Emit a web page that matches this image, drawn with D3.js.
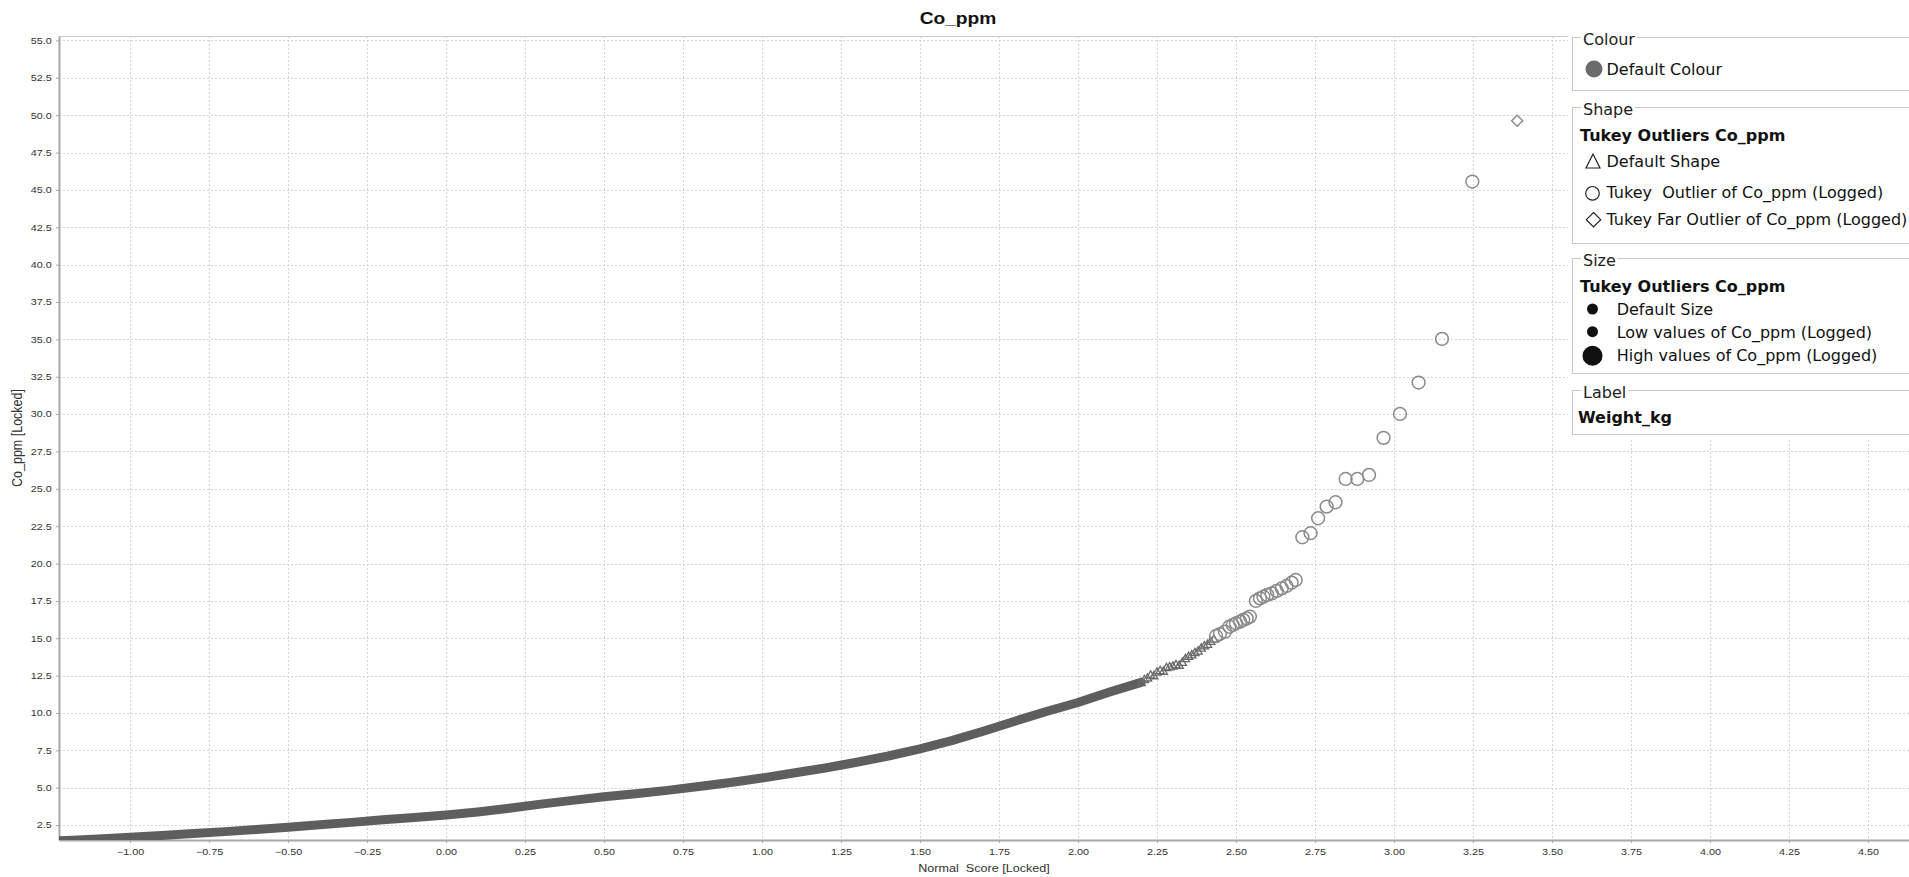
<!DOCTYPE html>
<html>
<head>
<meta charset="utf-8">
<script src="https://cdn.jsdelivr.net/npm/d3@7"></script>
<style>
  body { margin: 0; background: #fff; }
  text { font-family: "Liberation Sans", Arial, sans-serif; }
  .legend text { font-family: "DejaVu Sans", sans-serif; }
</style>
</head>
<body>
<div id="chart"></div>
<script>
// values: normal score (x) and Co_ppm (y)
// dense part of the curve, so many points overlap that they form a solid band
var bandScore = [-1.25, -1.2, -1.1, -1.0, -0.9, -0.8, -0.7, -0.6, -0.5, -0.4, -0.3, -0.2, -0.1,
  0.0, 0.1, 0.2, 0.3, 0.4, 0.5, 0.6, 0.7, 0.8, 0.9, 1.0, 1.1, 1.2, 1.3, 1.4, 1.5,
  1.6, 1.7, 1.8, 1.9, 2.0, 2.1, 2.2];
var bandValue = [1.42, 1.47, 1.56, 1.68, 1.80, 1.93, 2.06, 2.20, 2.36, 2.52, 2.68, 2.85, 3.01,
  3.18, 3.38, 3.62, 3.90, 4.15, 4.40, 4.60, 4.82, 5.08, 5.35, 5.65, 5.98, 6.32, 6.70, 7.12, 7.60,
  8.15, 8.78, 9.45, 10.1, 10.7, 11.4, 12.05];

// default shape points at the top of the band, where they start to separate
var defaultScore = [2.20, 2.21, 2.22, 2.23, 2.24, 2.25, 2.26, 2.27, 2.28, 2.29, 2.30, 2.31,
  2.32, 2.33, 2.34, 2.35, 2.36, 2.37, 2.38, 2.39, 2.40, 2.41, 2.42, 2.43];
var defaultValue = [12.0, 12.2, 12.3, 12.5, 12.45, 12.7, 12.8, 12.75, 13.0, 13.05, 13.1, 13.2,
  13.15, 13.35, 13.6, 13.75, 13.85, 14.0, 14.1, 14.3, 14.45, 14.55, 14.75, 14.9];

// Tukey outliers (circles)
var outlierScore = [2.437, 2.449, 2.465, 2.479, 2.49, 2.50, 2.513, 2.523, 2.534, 2.544,
  2.563, 2.576, 2.587, 2.599, 2.613, 2.629, 2.645, 2.660, 2.676, 2.689,
  2.710, 2.736, 2.760, 2.787, 2.815, 2.847, 2.884, 2.921, 2.967, 3.019, 3.078, 3.152, 3.248];
var outlierValue = [15.15, 15.28, 15.44, 15.77, 15.89, 16.0, 16.11, 16.23, 16.33, 16.45,
  17.5, 17.67, 17.78, 17.9, 18.0, 18.17, 18.34, 18.5, 18.72, 18.9,
  21.76, 22.03, 23.03, 23.81, 24.10, 25.66, 25.66, 25.93, 28.41, 30.01, 32.11, 35.03, 45.56];

// Tukey far outlier (diamond)
var farScore = [3.39];
var farValue = [49.63];

var xTicks = [-1.0, -0.75, -0.5, -0.25, 0, 0.25, 0.5, 0.75, 1.0, 1.25, 1.5, 1.75, 2.0, 2.25,
  2.5, 2.75, 3.0, 3.25, 3.5, 3.75, 4.0, 4.25, 4.5];
var yTicks = [2.5, 5, 7.5, 10, 12.5, 15, 17.5, 20, 22.5, 25, 27.5, 30, 32.5, 35, 37.5, 40,
  42.5, 45, 47.5, 50, 52.5, 55];

var shapeLabels = ["Default Shape", "Tukey  Outlier of Co_ppm (Logged)", "Tukey Far Outlier of Co_ppm (Logged)"];
var sizeLabels = ["Default Size", "Low values of Co_ppm (Logged)", "High values of Co_ppm (Logged)"];

var width = 1909, height = 877;
var plot = {left: 59, right: 1909, top: 36, bottom: 840};
var sx = 1.2; // the picture is slightly stretched sideways

var svg = d3.select("#chart")
  .append("svg")
    .attr("width", width)
    .attr("height", height);

var x = d3.scaleLinear().domain([-1.225, 4.63]).range([plot.left, plot.right]);
var y = d3.scaleLinear().domain([1.5, 55.3]).range([plot.bottom, plot.top]);

svg.append("clipPath").attr("id", "clip")
  .append("rect")
    .attr("x", plot.left).attr("y", plot.top)
    .attr("width", plot.right - plot.left).attr("height", plot.bottom - plot.top);

// top border
svg.append("line")
  .attr("x1", plot.left).attr("x2", plot.right)
  .attr("y1", plot.top + 0.5).attr("y2", plot.top + 0.5)
  .attr("stroke", "#cccccc");

// dotted grid
svg.append("g").selectAll("line").data(xTicks).join("line")
  .attr("x1", d => Math.round(x(d)) + 0.5).attr("x2", d => Math.round(x(d)) + 0.5)
  .attr("y1", plot.top).attr("y2", plot.bottom)
  .attr("stroke", "#d4d4d4").attr("stroke-dasharray", "2,2");
svg.append("g").selectAll("line").data(yTicks).join("line")
  .attr("y1", d => Math.round(y(d)) + 0.5).attr("y2", d => Math.round(y(d)) + 0.5)
  .attr("x1", plot.left).attr("x2", plot.right)
  .attr("stroke", "#d4d4d4").attr("stroke-dasharray", "2,2");

// Y axis
var yAxis = svg.append("g")
  .attr("transform", "translate(" + plot.left + ",0)")
  .call(d3.axisLeft(y).tickValues(yTicks).tickFormat(d3.format(".1f")).tickSize(3).tickSizeOuter(0));
yAxis.select(".domain").attr("stroke", "#a8a8a8").attr("stroke-width", 2);
yAxis.selectAll(".tick line").attr("stroke", "#a8a8a8");
yAxis.selectAll(".tick text")
  .attr("x", -7.3 / sx)
  .attr("transform", "scale(" + sx + ",1)")
  .style("font-size", "9px").attr("fill", "#333");

// X axis
var xAxis = svg.append("g")
  .attr("transform", "translate(0," + plot.bottom + ")")
  .call(d3.axisBottom(x).tickValues(xTicks).tickFormat(d3.format(".2f")).tickSize(3).tickSizeOuter(0));
xAxis.select(".domain").attr("stroke", "#a8a8a8").attr("stroke-width", 2);
xAxis.selectAll(".tick line").attr("stroke", "#a8a8a8");
xAxis.selectAll(".tick text")
  .attr("y", 9)
  .attr("transform", "scale(" + sx + ",1)")
  .style("font-size", "9px").attr("fill", "#333");

// axis titles and chart title
svg.append("text")
  .attr("transform", "translate(984,872) scale(" + sx + ",1)")
  .style("text-anchor", "middle").style("font-size", "10.5px").style("white-space", "pre")
  .attr("fill", "#333")
  .text("Normal  Score [Locked]");

svg.append("text")
  .attr("transform", "translate(22,438) scale(" + sx + ",1) rotate(-90)")
  .style("text-anchor", "middle").style("font-size", "12.5px")
  .attr("fill", "#333")
  .text("Co_ppm [Locked]");

svg.append("text")
  .attr("transform", "translate(958,24) scale(" + sx + ",1)")
  .style("text-anchor", "middle").style("font-size", "16px").style("font-weight", "bold")
  .attr("fill", "#111")
  .text("Co_ppm");

// points
var marks = svg.append("g").attr("clip-path", "url(#clip)");

marks.append("path")
  .datum(bandScore)
  .attr("fill", "none")
  .attr("stroke", "#5e5e5e")
  .attr("stroke-width", 9)
  .attr("stroke-linejoin", "round")
  .attr("stroke-linecap", "round")
  .attr("d", d3.line()
    .x(function(d, i) { return x(bandScore[i]); })
    .y(function(d, i) { return y(bandValue[i]); })
  );

var tri = d3.symbol().type(d3.symbolTriangle).size(30);
marks.append("g").selectAll("path").data(defaultScore).join("path")
  .attr("transform", (d, i) => "translate(" + x(d) + "," + y(defaultValue[i]) + ")")
  .attr("d", tri)
  .attr("fill", "none").attr("stroke", "#6a6a6a").attr("stroke-width", 1.3);

marks.append("g").selectAll("circle").data(outlierScore).join("circle")
  .attr("cx", d => x(d))
  .attr("cy", (d, i) => y(outlierValue[i]))
  .attr("r", 6.4)
  .attr("fill", "none").attr("stroke", "#8a8a8a").attr("stroke-width", 1.5);

var diamond = d3.symbol().type(d3.symbolSquare).size(62);
marks.append("g").selectAll("path").data(farScore).join("path")
  .attr("transform", (d, i) => "translate(" + x(d) + "," + y(farValue[i]) + ") rotate(45)")
  .attr("d", diamond)
  .attr("fill", "none").attr("stroke", "#8a8a8a").attr("stroke-width", 1.4);

// legend panel
var legend = svg.append("g").attr("class", "legend");
legend.append("rect")
  .attr("x", 1568).attr("y", 28).attr("width", 345).attr("height", 410)
  .attr("fill", "#fff");

var boxes = [
  {title: "Colour", top: 37, bottom: 90},
  {title: "Shape", top: 107, bottom: 243},
  {title: "Size", top: 258, bottom: 373},
  {title: "Label", top: 390, bottom: 434}
];
boxes.forEach(function(b) {
  legend.append("rect")
    .attr("x", 1572.5).attr("y", b.top + 0.5)
    .attr("width", 360).attr("height", b.bottom - b.top)
    .attr("fill", "none").attr("stroke", "#c8c8c8");
  var bg = legend.append("rect").attr("fill", "#fff");
  var t = legend.append("text")
    .attr("x", 1583).attr("y", b.top + 8)
    .style("font-size", "16px").attr("fill", "#222")
    .text(b.title);
  var w = t.node().getComputedTextLength();
  bg.attr("x", 1581).attr("y", b.top - 4).attr("width", w + 4).attr("height", 8);
});

// Colour
legend.append("circle").attr("cx", 1594).attr("cy", 69).attr("r", 8.5).attr("fill", "#6b6b6b");
legend.append("text").attr("x", 1606.5).attr("y", 74.5)
  .style("font-size", "16px").attr("fill", "#111").text("Default Colour");

// Shape
legend.append("text").attr("x", 1580).attr("y", 140.5)
  .style("font-size", "16px").style("font-weight", "bold").attr("fill", "#111")
  .text("Tukey Outliers Co_ppm");
var shapeY = [166.7, 198.3, 224.5];
legend.append("path")
  .attr("d", "M1586,168L1600,168L1593,154Z")
  .attr("fill", "none").attr("stroke", "#222").attr("stroke-width", 1.2);
legend.append("circle").attr("cx", 1592.5).attr("cy", 193.3).attr("r", 6.8)
  .attr("fill", "none").attr("stroke", "#222").attr("stroke-width", 1.2);
legend.append("path")
  .attr("d", "M1593.5,212.5L1600.7,219.7L1593.5,226.9L1586.3,219.7Z")
  .attr("fill", "none").attr("stroke", "#222").attr("stroke-width", 1.2);
legend.selectAll(".shapeLabel").data(shapeLabels).join("text")
  .attr("class", "shapeLabel")
  .attr("x", 1606.5).attr("y", (d, i) => shapeY[i])
  .style("font-size", "16px").style("white-space", "pre").attr("fill", "#111")
  .text(d => d);

// Size
legend.append("text").attr("x", 1580).attr("y", 291.7)
  .style("font-size", "16px").style("font-weight", "bold").attr("fill", "#111")
  .text("Tukey Outliers Co_ppm");
var sizeY = [315, 337.7, 360.7];
var sizeR = [5.5, 5.5, 10];
var sizeCy = [309, 331.7, 355.8];
legend.selectAll(".sizeIcon").data(sizeLabels).join("circle")
  .attr("class", "sizeIcon")
  .attr("cx", 1592.5).attr("cy", (d, i) => sizeCy[i]).attr("r", (d, i) => sizeR[i])
  .attr("fill", "#111");
legend.selectAll(".sizeLabel").data(sizeLabels).join("text")
  .attr("class", "sizeLabel")
  .attr("x", 1616.7).attr("y", (d, i) => sizeY[i])
  .style("font-size", "16px").attr("fill", "#111")
  .text(d => d);

// Label
legend.append("text").attr("x", 1578).attr("y", 422.7)
  .style("font-size", "16px").style("font-weight", "bold").attr("fill", "#111")
  .text("Weight_kg");
</script>
</body>
</html>
